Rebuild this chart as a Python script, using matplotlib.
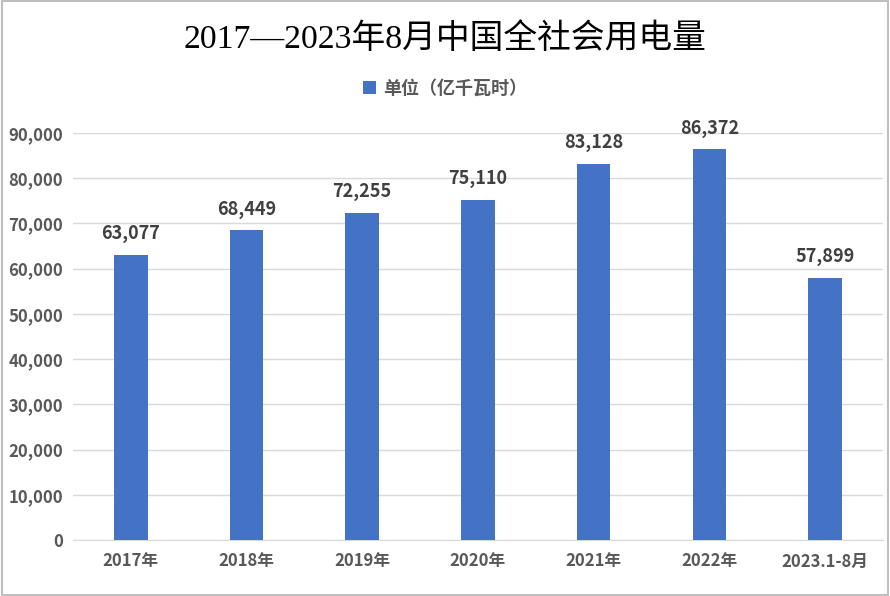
import matplotlib.pyplot as plt
from matplotlib.patches import Rectangle

categories = ["2017年", "2018年", "2019年", "2020年", "2021年", "2022年", "2023.1-8月"]
values = [63077, 68449, 72255, 75110, 83128, 86372, 57899]
yticks = [0, 10000, 20000, 30000, 40000, 50000, 60000, 70000, 80000, 90000]

sans = ["Noto Sans CJK SC", "DejaVu Sans"]
serif = ["Liberation Serif", "Noto Sans CJK SC"]
blue = "#4472C4"

fig = plt.figure(figsize=(8.9, 5.96), dpi=100)
ax = fig.add_axes([0.082, 0.094, 0.91, 0.683])

x = range(len(categories))
bars = ax.bar(x, values, width=0.29, color=blue, label="单位（亿千瓦时）", zorder=3)

for xi, v in zip(x, values):
    ax.text(xi, v + 2600, f"{v:,}", ha="center", va="bottom", fontsize=13,
            fontweight="bold", color="#404040", family=sans, clip_on=False)

ax.set_xlim(-0.5, len(categories) - 0.5)
ax.set_ylim(0, 90000)
ax.set_yticks(yticks)
ax.set_yticklabels([f"{t:,}" for t in yticks])
ax.set_xticks(list(x))
ax.set_xticklabels(categories)
ax.grid(axis="y", color="#D9D9D9", linewidth=1, zorder=0)
for s in ["top", "right", "left"]:
    ax.spines[s].set_visible(False)
ax.spines["bottom"].set_color("#D9D9D9")
ax.tick_params(axis="both", length=0, colors="#595959")
ax.tick_params(axis="y", pad=7)
ax.tick_params(axis="x", pad=9)
for lab in ax.get_xticklabels() + ax.get_yticklabels():
    lab.set_family(sans)
    lab.set_fontweight("bold")
    lab.set_fontsize(12)

fig.text(0.5, 0.935, "2017—2023年8月中国全社会用电量", ha="center", va="center",
         fontsize=24.3, family=serif, color="black")
fig.legend(loc="center", bbox_to_anchor=(0.5, 0.852), frameon=False,
           handlelength=0.7, handleheight=0.7, handletextpad=0.4,
           prop={"family": sans, "size": 13, "weight": "bold"}, labelcolor="#595959")

fig.patches.append(Rectangle((0.002, 0.002), 0.996, 0.996, transform=fig.transFigure,
                             fill=False, edgecolor="#BFBFBF", linewidth=1.5))

fig.savefig("out.png", dpi=100)
